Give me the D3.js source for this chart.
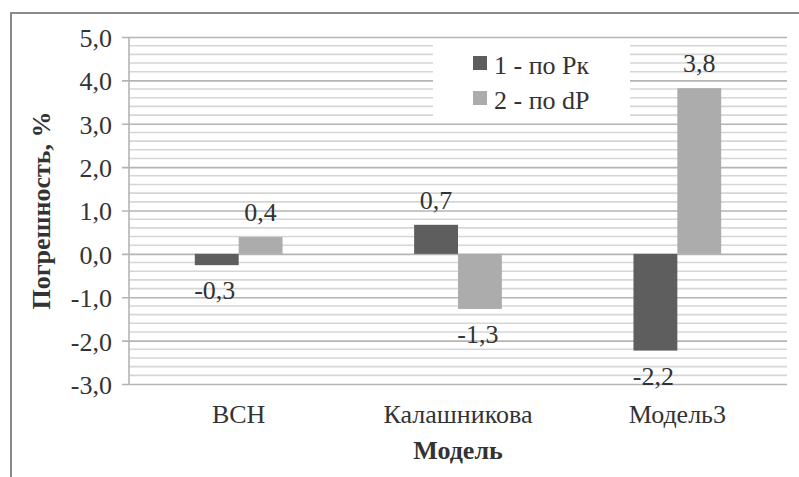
<!DOCTYPE html>
<html>
<head>
    <meta charset="UTF-8">
    <script src="https://d3js.org/d3.v7.min.js"></script>
</head>
<body style="margin:0">
<script>
    var categories = ["ВСН", "Калашникова", "Модель3"];
    var seriesNames = ["1 - по Рк", "2 - по dP"];
    var seriesPk = [-0.26, 0.67, -2.23];
    var seriesDp = [0.39, -1.27, 3.82];
    var yTicks = [-3, -2, -1, 0, 1, 2, 3, 4, 5];

    var svgWidth = 799, svgHeight = 477;
    var margin = {left: 129, right: 12, top: 37, bottom: 93};
    var colors = ["#5e5e5e", "#acacac"];
    var fontSize = 26;
    var textColor = "#333";

    var locale = d3.formatLocale({decimal: ",", thousands: " ", grouping: [3], currency: ["", ""], minus: "-"});
    var fmt = locale.format(".1f");

    var svg = d3.select("body").append("svg")
        .attr("width", svgWidth)
        .attr("height", svgHeight)
        .attr("font-family", "Liberation Serif");

    var styleText = function (sel) {
        sel.attr("font-family", "Liberation Serif")
            .attr("font-size", fontSize)
            .attr("fill", textColor);
    };

    // outer frame (cropped at right and bottom)
    svg.append("path")
        .attr("d", "M11," + svgHeight + "V13H" + svgWidth)
        .attr("fill", "none")
        .attr("stroke", "#8a8a8a")
        .attr("stroke-width", 2);

    var xScale = d3.scaleBand()
        .domain(categories)
        .range([margin.left, svgWidth - margin.right]);
    var xInner = d3.scaleBand()
        .domain([0, 1])
        .range([0, xScale.bandwidth()])
        .paddingOuter(1.5);
    var yScale = d3.scaleLinear()
        .domain([-3, 5])
        .range([svgHeight - margin.bottom, margin.top]);

    // minor gridlines every 0.2
    var minor = yScale.ticks(40).filter(function (d) {
        return Math.abs(d - Math.round(d)) > 1e-6;
    });
    svg.append("g").selectAll("line")
        .data(minor)
        .enter()
        .append("line")
        .attr("x1", margin.left)
        .attr("x2", svgWidth - margin.right)
        .attr("y1", function (d) { return yScale(d); })
        .attr("y2", function (d) { return yScale(d); })
        .attr("stroke", "#d6d6d6")
        .attr("stroke-width", 1.6);

    // major gridlines + y axis
    var yAxis = d3.axisLeft(yScale)
        .tickValues(yTicks)
        .tickSize(-(svgWidth - margin.right - margin.left))
        .tickPadding(17)
        .tickFormat(fmt);
    var yg = svg.append("g")
        .attr("transform", "translate(" + margin.left + ",0)")
        .call(yAxis);
    yg.attr("font-family", "Liberation Serif").attr("font-size", fontSize);
    yg.select(".domain").remove();
    yg.selectAll(".tick line")
        .attr("stroke", "#b4b4b4")
        .attr("stroke-width", 1.6)
        .attr("x1", -7);
    yg.selectAll(".tick text")
        .call(styleText)
        .attr("dy", "0.36em");
    svg.append("line")
        .attr("x1", margin.left).attr("x2", margin.left)
        .attr("y1", yScale(5)).attr("y2", yScale(-3))
        .attr("stroke", "#b4b4b4")
        .attr("stroke-width", 1.6);

    // legend box (hides gridlines behind it)
    var legend = svg.append("g");
    legend.append("rect")
        .attr("x", 433).attr("y", 42)
        .attr("width", 197).attr("height", 79)
        .attr("fill", "#fff");
    var items = legend.selectAll("g")
        .data(seriesNames)
        .enter()
        .append("g")
        .attr("transform", function (d, i) { return "translate(473," + (56 + i * 35) + ")"; });
    items.append("rect")
        .attr("width", 14).attr("height", 14)
        .attr("fill", function (d, i) { return colors[i]; });
    items.append("text")
        .attr("x", 21).attr("y", 18)
        .call(styleText)
        .text(function (d) { return d; });

    // bars
    var rows = categories.map(function (c, i) {
        return {cat: c, values: [seriesPk[i], seriesDp[i]]};
    });
    var groups = svg.append("g").selectAll("g")
        .data(rows)
        .enter()
        .append("g")
        .attr("transform", function (d) { return "translate(" + xScale(d.cat) + ",0)"; });
    var bars = groups.selectAll("g")
        .data(function (d) { return d.values; })
        .enter()
        .append("g");
    bars.append("rect")
        .attr("x", function (d, i) { return xInner(i); })
        .attr("width", xInner.bandwidth())
        .attr("y", function (d) { return yScale(Math.max(0, d)); })
        .attr("height", function (d) { return Math.abs(yScale(d) - yScale(0)); })
        .attr("fill", function (d, i) { return colors[i]; });
    bars.append("text")
        .attr("x", function (d, i) { return xInner(i) + xInner.bandwidth() / 2 + (d < 0 ? -2 : 0); })
        .attr("y", function (d) { return d >= 0 ? yScale(d) - 16 : yScale(d) + 34; })
        .attr("text-anchor", "middle")
        .call(styleText)
        .text(function (d) { return fmt(d); });

    // category labels
    svg.append("g").selectAll("text")
        .data(categories)
        .enter()
        .append("text")
        .attr("x", function (d) { return xScale(d) + xScale.bandwidth() / 2; })
        .attr("y", 423)
        .attr("text-anchor", "middle")
        .call(styleText)
        .text(function (d) { return d; });

    // axis titles
    svg.append("text")
        .attr("x", (margin.left + svgWidth - margin.right) / 2)
        .attr("y", 459)
        .attr("text-anchor", "middle")
        .call(styleText)
        .attr("font-weight", "bold")
        .text("Модель");
    svg.append("text")
        .attr("transform", "translate(50," + yScale(1) + ") rotate(-90)")
        .attr("text-anchor", "middle")
        .call(styleText)
        .attr("font-weight", "bold")
        .text("Погрешность, %");
</script>
</body>
</html>
